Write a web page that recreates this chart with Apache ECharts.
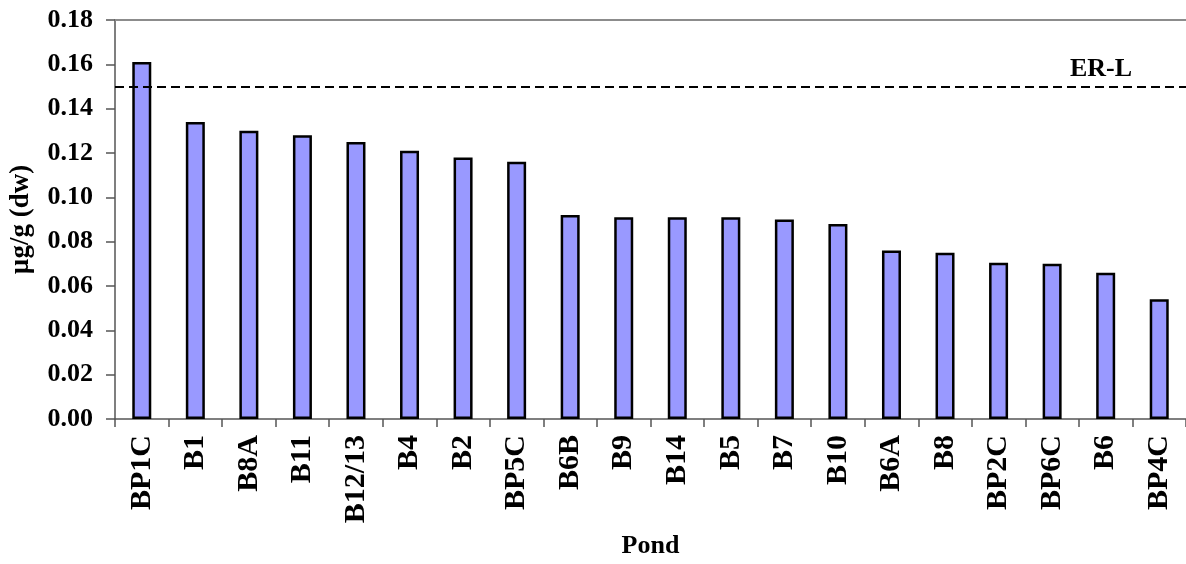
<!DOCTYPE html>
<html>
<head>
<meta charset="utf-8">
<script src="https://cdn.jsdelivr.net/npm/echarts@6/dist/echarts.min.js"></script>
<style>
  html, body { margin: 0; padding: 0; background: #fff; overflow: hidden; }
  #chart { width: 1186px; height: 564px; }
</style>
</head>
<body>
<div id="chart"></div>
<script>
// Pond sediment concentrations (µg/g dry weight)
const ponds = ['BP1C', 'B1', 'B8A', 'B11', 'B12/13', 'B4', 'B2', 'BP5C', 'B6B', 'B9',
               'B14', 'B5', 'B7', 'B10', 'B6A', 'B8', 'BP2C', 'BP6C', 'B6', 'BP4C'];
const concentrations = [0.161, 0.134, 0.130, 0.128, 0.125, 0.121, 0.118, 0.116, 0.092, 0.091,
                        0.091, 0.091, 0.090, 0.088, 0.076, 0.075, 0.0705, 0.070, 0.066, 0.054];
// Effects Range-Low guideline
const erlValue = 0.149;
const erlLabel = 'ER-L';
const yTicks = { min: 0, max: 0.18, step: 0.02 };

const serif = "'Liberation Serif', 'Times New Roman', serif";
const axisGrey = '#555555';

const chart = echarts.init(document.getElementById('chart'), null, { renderer: 'canvas' });
chart.setOption({
  animation: false,
  backgroundColor: '#ffffff',
  // plot area runs slightly past the right edge of the canvas
  grid: { left: 115, top: 20, width: 1076, height: 404, show: false },
  xAxis: [{
    type: 'category',
    data: ponds,
    name: 'Pond',
    nameLocation: 'middle',
    nameGap: 114,
    nameTextStyle: { fontFamily: serif, fontWeight: 'bold', fontSize: 26, color: '#000' },
    axisLine: { lineStyle: { color: axisGrey, width: 1.5 } },
    axisTick: { show: true, length: 8, lineStyle: { color: axisGrey, width: 1.5 } },
    axisLabel: {
      rotate: 90, margin: 16, interval: 0,
      fontFamily: serif, fontWeight: 'bold', fontSize: 30, color: '#000'
    },
    splitLine: { show: false }
  }, {
    // top frame line of the plot area
    type: 'category',
    data: ponds,
    position: 'top',
    axisLine: { show: true, lineStyle: { color: '#8c8c8c', width: 2 } },
    axisTick: { show: false },
    axisLabel: { show: false },
    splitLine: { show: false }
  }],
  yAxis: {
    type: 'value',
    min: yTicks.min, max: yTicks.max, interval: yTicks.step,
    name: 'µg/g (dw)',
    nameLocation: 'middle',
    nameRotate: 90,
    nameGap: 80,
    nameTextStyle: { fontFamily: serif, fontWeight: 'bold', fontSize: 27, color: '#000' },
    axisLine: { show: true, lineStyle: { color: axisGrey, width: 1.5 } },
    axisTick: { show: true, length: 9, lineStyle: { color: axisGrey, width: 1.5 } },
    axisLabel: {
      margin: 22,
      formatter: v => v.toFixed(2),
      fontFamily: serif, fontWeight: 'bold', fontSize: 26, color: '#000'
    },
    splitLine: { show: false }
  },
  series: [{
    type: 'bar',
    data: concentrations,
    barWidth: 19,
    itemStyle: { color: '#9999ff', borderColor: '#000', borderWidth: 2.5 },
    markLine: {
      silent: true,
      symbol: ['none', 'none'],
      data: [{ yAxis: erlValue }],
      lineStyle: { color: '#000', width: 2, type: [9, 5] },
      label: {
        show: true,
        formatter: erlLabel,
        position: 'insideEndTop',
        distance: 4,
        padding: [0, 50, 0, 0],
        fontFamily: serif, fontWeight: 'bold', fontSize: 26, color: '#000'
      }
    }
  }]
});
</script>
</body>
</html>
